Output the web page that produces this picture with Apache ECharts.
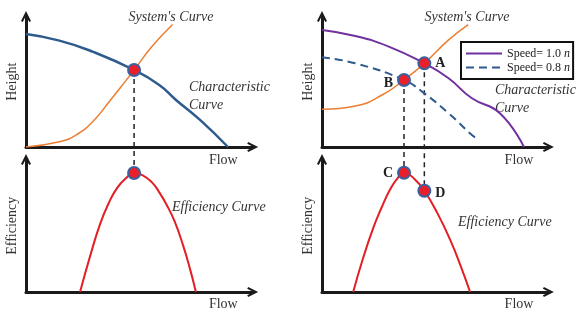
<!DOCTYPE html>
<html>
<head>
<meta charset="utf-8">
<script src="https://cdn.jsdelivr.net/npm/echarts@6/dist/echarts.min.js"></script>
<style>
  html, body { margin: 0; padding: 0; background: #fff; }
  #chart { width: 578px; height: 311px; }
</style>
</head>
<body>
<div id="chart"></div>
<script>
var chart = echarts.init(document.getElementById('chart'), null, { renderer: 'canvas' });

// ---- data (flow / height / efficiency, arbitrary units) ----
// left: single speed
var charFlow   = [0, 14.6, 29.1, 47.2, 58.2, 65.5, 76, 88.2];
var charHead   = [83, 78.2, 70.1, 56.6, 45.6, 34.6, 19.9, 0];
var sysFlowL   = [0, 14.6, 21.8, 29.1, 36.4, 43.7, 47.2, 55, 64];
var sysHeadL   = [0, 3.9, 8.8, 18.6, 33.5, 49, 56.6, 73.8, 90];
var effFlowL   = [23.6, 28, 32.3, 36, 39.6, 43.5, 47.2, 51, 55, 58, 61.4, 65, 68.7, 71.5, 74.2];
var effValL    = [0, 26, 49, 64, 75, 82.3, 86.3, 84.6, 79.5, 72.8, 63.3, 50.8, 33.3, 17.5, 0];
var opPointL   = [47.2, 56.6];
var bepL       = [47.2, 86.3];

// right: two speeds
var speedNames = ['Speed= 1.0 n', 'Speed= 0.8 n'];
var fullFlow   = [0, 14.4, 28.9, 44.3, 54.8, 64.9, 77, 87.4];
var fullHead   = [86, 81.6, 73.8, 61.5, 50.5, 35.8, 24.8, 0];
var redFlow    = [0, 14.4, 35.5, 43.3, 54.8, 64.9, 67];
var redHead    = [66, 61.5, 49.3, 40.7, 24.8, 8.8, 6.4];
var sysFlowR   = [0, 14.4, 26, 35.5, 44.3, 54.8, 63.3];
var sysHeadR   = [27.7, 30.1, 38.2, 49.3, 61.5, 78.7, 90];
var effFlowR   = [13.5, 17.5, 22.2, 26, 29.4, 32.5, 35.5, 40, 44.3, 50, 55.4, 60, 64.1];
var effValR    = [0, 23, 46.5, 62, 74.1, 82, 86.5, 82, 73.4, 57, 38.1, 19, 0];
var pointA     = [44.3, 61.5];
var pointB     = [35.5, 49.3];
var pointC     = [35.5, 86.5];
var pointD     = [44.3, 73.4];

function zip(xs, ys) {
  return xs.map(function (x, i) { return [x, ys[i]]; });
}

var serif = 'Liberation Serif';
var chevron = 'path://M0,10 L5,0 L10,10 L8.2,11 L5,4.6 L1.8,11 Z';

function axisLine() {
  return {
    show: true,
    symbol: ['none', chevron],
    symbolSize: [11, 11],
    lineStyle: { color: '#1a1a1a', width: 3 }
  };
}

function xAxisFor(grid, max, nameTop) {
  return {
    type: 'value', gridIndex: grid, min: 0, max: max,
    axisLine: axisLine(), axisTick: { show: false }, axisLabel: { show: false },
    splitLine: { show: false },
    name: 'Flow', nameLocation: 'end', nameGap: -15,
    nameTextStyle: {
      fontFamily: serif, fontSize: 14, color: '#333',
      align: 'right', verticalAlign: 'top', padding: [nameTop, 0, 0, 0]
    }
  };
}

function yAxisFor(grid, max, name) {
  return {
    type: 'value', gridIndex: grid, min: 0, max: max,
    axisLine: axisLine(), axisTick: { show: false }, axisLabel: { show: false },
    splitLine: { show: false },
    name: name, nameLocation: 'middle', nameGap: 7,
    nameTextStyle: { fontFamily: serif, fontSize: 14, color: '#333' }
  };
}

function curve(name, idx, data, color, width, type) {
  return {
    name: name, type: 'line', xAxisIndex: idx, yAxisIndex: idx,
    data: data, smooth: 0.5, symbol: 'none', silent: true,
    lineStyle: { color: color, width: width, type: type || 'solid' },
    itemStyle: { color: color }
  };
}

function dropLine(idx, pt, toY) {
  return {
    type: 'line', xAxisIndex: idx, yAxisIndex: idx, clip: false,
    data: [pt, [pt[0], toY]], symbol: 'none', silent: true, z: 1,
    lineStyle: { color: '#222', width: 1.5, type: [5, 4] }
  };
}

function marker(idx, pt, label, pos, dy) {
  return {
    type: 'scatter', xAxisIndex: idx, yAxisIndex: idx, data: [pt],
    symbolSize: 12, z: 5, clip: false,
    itemStyle: { color: '#e8202a', borderColor: '#3a62a2', borderWidth: 2, opacity: 1 },
    label: {
      show: !!label, formatter: label || '', position: pos || 'right', distance: 4,
      offset: [0, dy || 0],
      fontFamily: serif, fontWeight: 'bold', fontSize: 14, color: '#222'
    }
  };
}

function note(x, y, text, align) {
  return {
    type: 'text', silent: true,
    style: {
      x: x, y: y, text: text, align: align || 'left', verticalAlign: 'middle',
      font: 'italic 14px "Liberation Serif"', fill: '#333'
    }
  };
}

var option = {
  backgroundColor: '#fff',
  animation: false,
  grid: [
    { left: 26, top: 16.4, width: 226.7, height: 130.6 },
    { left: 26, top: 159.6, width: 226.7, height: 133.4 },
    { left: 322, top: 16.4, width: 226.4, height: 130.6 },
    { left: 322, top: 159.6, width: 226.4, height: 133.4 }
  ],
  xAxis: [xAxisFor(0, 99, 6), xAxisFor(1, 99, 5), xAxisFor(2, 98, 6), xAxisFor(3, 98, 5)],
  yAxis: [yAxisFor(0, 96, 'Height'), yAxisFor(1, 96, 'Efficiency'),
          yAxisFor(2, 96, 'Height'), yAxisFor(3, 96, 'Efficiency')],
  legend: {
    data: speedNames, orient: 'vertical', left: 461, top: 42,
    itemWidth: 36, itemHeight: 8, itemGap: 1,
    padding: [5, 3, 5, 4], borderColor: '#111', borderWidth: 2,
    selectedMode: false,
    itemStyle: { opacity: 0 },
    formatter: function (n) { return n.replace(/ n$/, ' {i|n}'); },
    textStyle: {
      fontFamily: serif, fontSize: 12, color: '#222', lineHeight: 13,
      rich: { i: { fontStyle: 'italic', fontFamily: serif, fontSize: 12, color: '#222' } }
    }
  },
  graphic: [
    note(171, 17, "System's Curve", 'center'),
    note(189, 87, 'Characteristic'),
    note(189, 105, 'Curve'),
    note(172, 207, 'Efficiency Curve'),
    note(467, 17, "System's Curve", 'center'),
    note(495, 90, 'Characteristic'),
    note(495, 108, 'Curve'),
    note(458, 222, 'Efficiency Curve')
  ],
  series: [
    // top left
    curve('char', 0, zip(charFlow, charHead), '#2e5b8e', 2.5),
    curve('sysL', 0, zip(sysFlowL, sysHeadL), '#ed7d31', 1.5),
    dropLine(0, opPointL, -19),
    marker(0, opPointL),
    // bottom left
    curve('effL', 1, zip(effFlowL, effValL), '#e31e24', 2),
    marker(1, bepL),
    // top right
    curve(speedNames[0], 2, zip(fullFlow, fullHead), '#7030a0', 2),
    curve(speedNames[1], 2, zip(redFlow, redHead), '#2e5b8e', 2, [8, 5]),
    curve('sysR', 2, zip(sysFlowR, sysHeadR), '#ed7d31', 1.5),
    dropLine(2, pointA, -32.4),
    dropLine(2, pointB, -19.1),
    marker(2, pointA, 'A', 'right', 0),
    marker(2, pointB, 'B', 'left', 3),
    // bottom right
    curve('effR', 3, zip(effFlowR, effValR), '#e31e24', 2),
    marker(3, pointC, 'C', 'left', 1),
    marker(3, pointD, 'D', 'right', 3)
  ]
};

chart.setOption(option);
</script>
</body>
</html>
